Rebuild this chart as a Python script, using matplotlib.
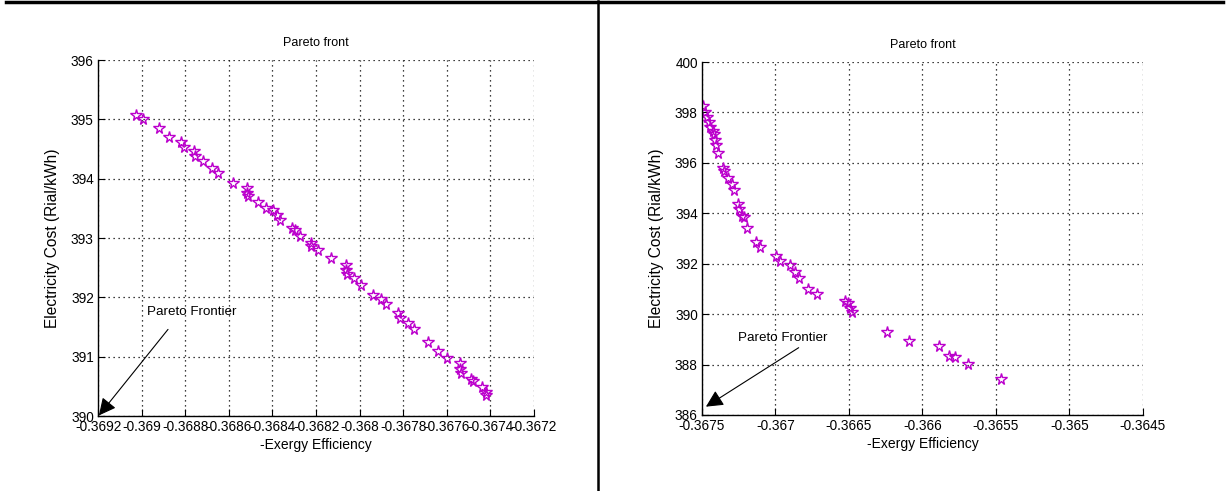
import matplotlib
matplotlib.use("Agg")
import matplotlib.pyplot as plt
from matplotlib.lines import Line2D

plt.rcParams["font.family"] = ["Liberation Sans", "DejaVu Sans"]

# left panel data
left_x = [-0.369028, -0.368993, -0.368920, -0.368875, -0.368821, -0.368804, -0.368761,
          -0.368757, -0.368719, -0.368679, -0.368650, -0.368581, -0.368516, -0.368516,
          -0.368512, -0.368465, -0.368430, -0.368398, -0.368380, -0.368367, -0.368311,
          -0.368298, -0.368274, -0.368224, -0.368224, -0.368193, -0.368131, -0.368062,
          -0.368062, -0.368057, -0.368026, -0.367993, -0.367940, -0.367904, -0.367881,
          -0.367822, -0.367813, -0.367777, -0.367752, -0.367688, -0.367641, -0.367599,
          -0.367539, -0.367539, -0.367536, -0.367491, -0.367481, -0.367440, -0.367422,
          -0.367418]
left_y = [395.08, 395.00, 394.85, 394.71, 394.62, 394.53, 394.47, 394.39, 394.30, 394.18,
          394.09, 393.92, 393.85, 393.76, 393.71, 393.61, 393.50, 393.47, 393.39, 393.30,
          393.17, 393.13, 393.03, 392.92, 392.87, 392.79, 392.67, 392.54, 392.46, 392.39,
          392.32, 392.21, 392.04, 391.97, 391.89, 391.74, 391.65, 391.57, 391.46, 391.25,
          391.10, 390.98, 390.90, 390.80, 390.73, 390.63, 390.59, 390.49, 390.41, 390.36]
left_xticks = [-0.3692, -0.3690, -0.3688, -0.3686, -0.3684, -0.3682, -0.3680,
               -0.3678, -0.3676, -0.3674, -0.3672]
left_xticklabels = ["-0.3692", "-0.369", "-0.3688", "-0.3686", "-0.3684", "-0.3682",
                    "-0.368", "-0.3678", "-0.3676", "-0.3674", "-0.3672"]
left_yticks = [390, 391, 392, 393, 394, 395, 396]

# right panel data
right_x = [-0.367492, -0.367481, -0.367465, -0.367454, -0.367443, -0.367427, -0.367418,
           -0.367410, -0.367402, -0.367388, -0.367359, -0.367353, -0.367320, -0.367299,
           -0.367282, -0.367252, -0.367247, -0.367231, -0.367214, -0.367195, -0.367133,
           -0.367106, -0.366997, -0.366970, -0.366899, -0.366869, -0.366839, -0.366782,
           -0.366720, -0.366526, -0.366508, -0.366494, -0.366480, -0.366241, -0.366094,
           -0.365888, -0.365822, -0.365779, -0.365692, -0.365463]
right_y = [398.25, 398.03, 397.83, 397.63, 397.44, 397.26, 397.13, 396.91, 396.70, 396.40,
           395.78, 395.69, 395.39, 395.15, 394.92, 394.37, 394.16, 393.89, 393.84, 393.40,
           392.85, 392.65, 392.32, 392.11, 391.95, 391.66, 391.42, 390.98, 390.79, 390.52,
           390.43, 390.23, 390.07, 389.30, 388.95, 388.75, 388.34, 388.31, 388.01, 387.41]
right_xticks = [-0.3675, -0.3670, -0.3665, -0.3660, -0.3655, -0.3650, -0.3645]
right_xticklabels = ["-0.3675", "-0.367", "-0.3665", "-0.366", "-0.3655", "-0.365", "-0.3645"]
right_yticks = [386, 388, 390, 392, 394, 396, 398, 400]

fig = plt.figure(figsize=(12.27, 4.91), dpi=100)
fig.patch.set_facecolor("white")

panels = [
    dict(rect=[0.0799, 0.1527, 0.3553, 0.7251], x=left_x, y=left_y,
         xticks=left_xticks, xlabels=left_xticklabels, yticks=left_yticks,
         text_xy=(-0.368975, 391.76), arrow_from=(-0.368879, 391.46),
         arrow_to=(-0.369196, 390.01)),
    dict(rect=[0.5721, 0.1548, 0.3594, 0.7189], x=right_x, y=right_y,
         xticks=right_xticks, xlabels=right_xticklabels, yticks=right_yticks,
         text_xy=(-0.367255, 389.07), arrow_from=(-0.366842, 388.67),
         arrow_to=(-0.367473, 386.33)),
]

for p in panels:
    ax = fig.add_axes(p["rect"])
    ax.plot(p["x"], p["y"], linestyle="none", marker="*", markersize=8.5,
            markerfacecolor="none", markeredgecolor="#bb00cc", markeredgewidth=1.0)
    ax.set_xlim(p["xticks"][0], p["xticks"][-1])
    ax.set_ylim(p["yticks"][0], p["yticks"][-1])
    ax.set_xticks(p["xticks"])
    ax.set_xticklabels(p["xlabels"])
    ax.set_yticks(p["yticks"])
    ax.set_yticklabels([str(v) for v in p["yticks"]])
    ax.tick_params(direction="in", length=5, width=0.8, labelsize=9.8, pad=3)
    ax.grid(True, linestyle=(0, (1, 3)), color="black", linewidth=0.9)
    for side in ("top", "right"):
        ax.spines[side].set_visible(False)
    for side in ("left", "bottom"):
        ax.spines[side].set_linewidth(1.0)
    ax.set_title("Pareto front", fontsize=9, pad=10)
    ax.set_xlabel("-Exergy Efficiency", fontsize=10, labelpad=3)
    ax.set_ylabel("Electricity Cost (Rial/kWh)", fontsize=11.2, labelpad=8)
    ax.text(p["text_xy"][0], p["text_xy"][1], "Pareto Frontier", fontsize=9.6,
            va="center", ha="left")
    ax.annotate("", xy=p["arrow_to"], xytext=p["arrow_from"],
                arrowprops=dict(arrowstyle="-|>", color="black", lw=0.8,
                                mutation_scale=26, shrinkA=0, shrinkB=0),
                annotation_clip=False)

# table-like frame lines
fig.add_artist(Line2D([6 / 1227, 1 - 4 / 1227], [1 - 2 / 491, 1 - 2 / 491],
                      color="black", linewidth=2.5))
fig.add_artist(Line2D([597.5 / 1227, 597.5 / 1227], [0, 1 - 1 / 491],
                      color="black", linewidth=1.8))

fig.savefig("out.png", dpi=100)
